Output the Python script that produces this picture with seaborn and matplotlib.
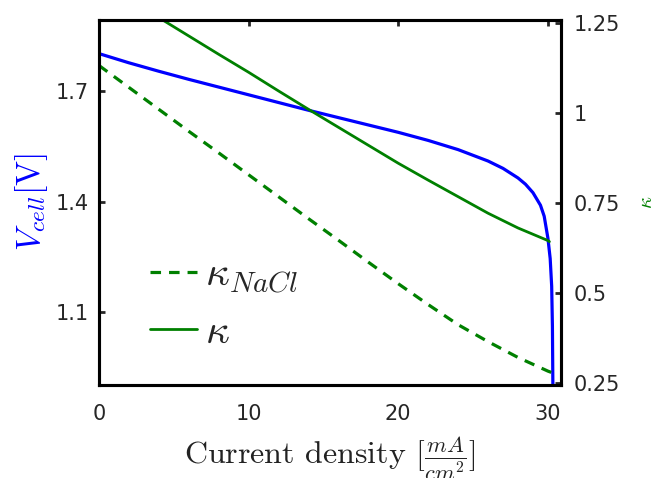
import numpy as np
import pandas as pd
import seaborn as sns
import matplotlib.pyplot as plt
from matplotlib.lines import Line2D

# ---------------------------- data ----------------------------
# cell voltage (left axis)
j_cell = [0, 2, 4, 6, 8, 10, 12, 14, 16, 18, 20, 22, 24, 26, 27, 28, 28.5, 29,
          29.5, 29.75, 30, 30.15, 30.25, 30.3, 30.33]
v_cell = [1.802, 1.777, 1.754, 1.732, 1.711, 1.690, 1.669, 1.648, 1.628, 1.608,
          1.588, 1.566, 1.541, 1.510, 1.490, 1.464, 1.447, 1.424, 1.390, 1.360,
          1.300, 1.245, 1.170, 1.060, 0.900]

# conductivity (right axis)
j_kappa = [0, 2, 4, 6, 8, 10, 12, 14, 16, 18, 20, 22, 24, 26, 28, 30, 30.1]
kappa = [1.366, 1.316, 1.265, 1.214, 1.163, 1.113, 1.061, 1.010, 0.960, 0.910,
         0.860, 0.813, 0.767, 0.721, 0.680, 0.645, 0.642]

j_nacl = [0, 2, 4, 6, 8, 10, 12, 14, 16, 18, 20, 22, 24, 26, 28, 30, 30.26]
kappa_nacl = [1.132, 1.071, 1.010, 0.949, 0.889, 0.828, 0.767, 0.706, 0.646,
              0.585, 0.525, 0.467, 0.411, 0.364, 0.320, 0.282, 0.278]

df_v = pd.DataFrame({'j': j_cell, 'V': v_cell})
df_k = pd.DataFrame({'j': j_kappa, 'k': kappa})
df_n = pd.DataFrame({'j': j_nacl, 'k': kappa_nacl})

#------------------------------------ style ---------------------------------------#
sns.set_style('white')
plt.rcParams['font.family'] = ['DejaVu Sans']
plt.rcParams['mathtext.fontset'] = 'cm'
plt.rcParams['axes.linewidth'] = 2.2

BLUE = '#0000ff'
GREEN = '#008000'
DASH = (0, (3.3, 2.5))

fig = plt.figure(figsize=(6.59, 4.78), dpi=100)
ax = fig.add_axes([0.150, 0.195, 0.701, 0.763])
ax2 = ax.twinx()

sns.lineplot(data=df_v, x='j', y='V', ax=ax, color=BLUE, lw=2.3, sort=False)
sns.lineplot(data=df_n, x='j', y='k', ax=ax2, color=GREEN, lw=2.3,
             linestyle=DASH, sort=False)
sns.lineplot(data=df_k, x='j', y='k', ax=ax2, color=GREEN, lw=2.0, sort=False)

ax.set_xlim(0, 30.86)
ax.set_ylim(0.902, 1.893)
ax2.set_ylim(0.244, 1.258)

ax.set_xticks([0, 10, 20, 30])
ax.set_yticks([1.1, 1.4, 1.7])
ax2.set_yticks([0.25, 0.5, 0.75, 1, 1.25])
ax2.set_yticklabels(['0.25', '0.5', '0.75', '1', '1.25'])

ax.tick_params(axis='x', direction='in', length=4, width=2, top=True,
               labelsize=15, pad=14)
ax.tick_params(axis='y', direction='in', length=4, width=2, labelsize=15, pad=7)
ax2.tick_params(axis='y', direction='in', length=4, width=2, labelsize=15, pad=9)

for a in (ax, ax2):
    for s in a.spines.values():
        s.set_color('black')
        s.set_linewidth(2.2)

ax.set_xlabel(r'Current density $[\frac{mA}{cm^2}]$', fontsize=23,
              family='cmr10', color='#222222', labelpad=7)
ax.set_ylabel(r'$V_{cell}[\mathrm{V}]$', fontsize=24, color=BLUE, labelpad=4)
ax2.set_ylabel(r'$\kappa$', fontsize=15, color=GREEN, labelpad=12)

handles = [Line2D([], [], color=GREEN, lw=2.3, linestyle=DASH),
           Line2D([], [], color=GREEN, lw=2.0)]
ax2.legend(handles, [r'$\kappa_{NaCl}$', r'$\kappa$'], loc='center left',
           bbox_to_anchor=(0.110, 0.225), frameon=False, fontsize=30,
           borderpad=0, borderaxespad=0,
           handlelength=1.13, handletextpad=0.19, labelspacing=0.35)

plt.savefig('out.png', dpi=100)
